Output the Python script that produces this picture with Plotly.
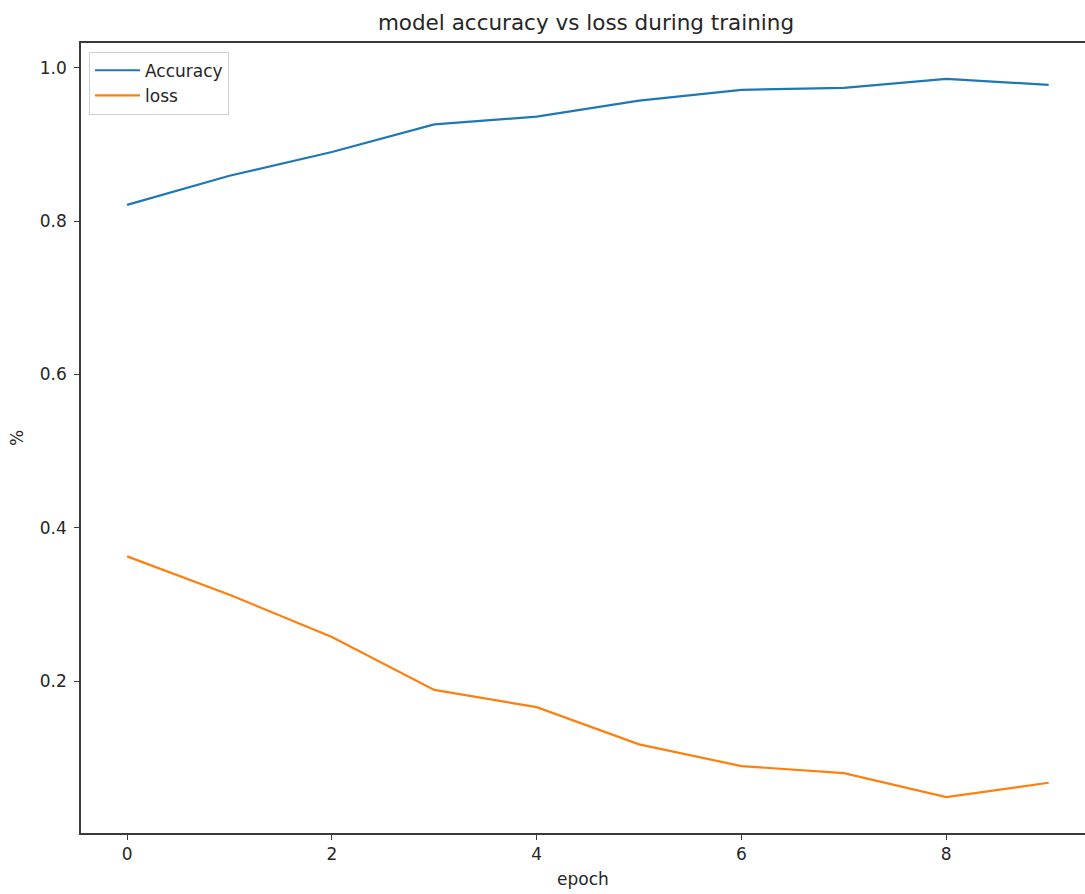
import plotly.graph_objects as go

epochs = [0, 1, 2, 3, 4, 5, 6, 7, 8, 9]
accuracy = [0.821, 0.859, 0.890, 0.926, 0.936, 0.957, 0.971, 0.9735, 0.9853, 0.9774]
loss = [0.363, 0.313, 0.258, 0.189, 0.1665, 0.118, 0.0897, 0.0805, 0.0493, 0.068]
x_ticks = [0, 2, 4, 6, 8]
y_ticks = [0.2, 0.4, 0.6, 0.8, 1.0]

fig = go.Figure()
fig.add_trace(go.Scatter(x=epochs, y=accuracy, mode="lines", name="Accuracy",
                         line=dict(color="#1f77b4", width=2.2)))
fig.add_trace(go.Scatter(x=epochs, y=loss, mode="lines", name="loss",
                         line=dict(color="#ff7f0e", width=2.2)))

font_family = "DejaVu Sans"
axis_col = "#3a3a3a"
fig.update_layout(
    width=1085, height=894,
    margin=dict(l=81, r=0, t=43, b=61, pad=0),
    paper_bgcolor="white", plot_bgcolor="white",
    font=dict(family=font_family, size=17, color="#262626"),
    title=dict(text="model accuracy vs loss during training", x=(375 + 797) / 2 / 1085,
               xanchor="center", y=1 - 22 / 894, yanchor="middle",
               font=dict(size=21.5, family=font_family, color="#262626")),
    showlegend=True,
    legend=dict(x=0.008, y=0.989, xanchor="left", yanchor="top",
                bgcolor="rgba(255,255,255,0.8)", bordercolor="#d0d0d0", borderwidth=1,
                itemwidth=45,
                font=dict(size=17, family=font_family, color="#262626")),
    xaxis=dict(range=[-0.45, 9.355], tickvals=x_ticks, ticktext=[str(v) for v in x_ticks],
               showgrid=False, zeroline=False, showline=True, mirror=True,
               linecolor=axis_col, linewidth=1.5, ticks="outside", ticklen=5,
               tickcolor=axis_col, tickwidth=1.3,
               title=dict(text="epoch", standoff=10, font=dict(size=17))),
    yaxis=dict(range=[0.0025, 1.032], tickvals=y_ticks, ticktext=[f"{v:.1f}" for v in y_ticks],
               showgrid=False, zeroline=False, showline=True, mirror=False,
               linecolor=axis_col, linewidth=1.5, ticks="outside", ticklen=5,
               tickcolor=axis_col, tickwidth=1.3, ticklabelstandoff=4,
               title=dict(text="%", standoff=12, font=dict(size=17))),
)

fig.write_html("out.html")
